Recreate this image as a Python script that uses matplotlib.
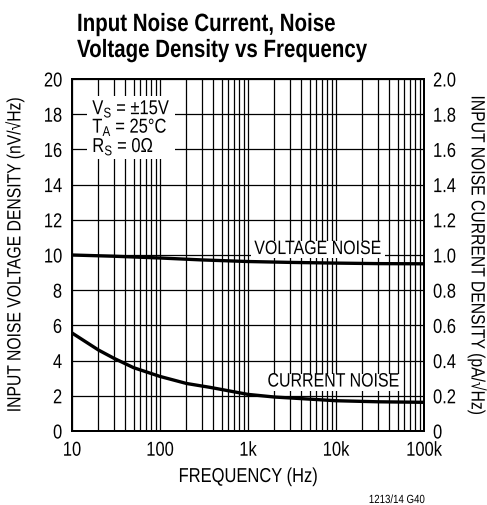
import matplotlib
matplotlib.use("Agg")
import matplotlib.pyplot as plt
from matplotlib.patheffects import AbstractPathEffect
from matplotlib.patches import Rectangle
from matplotlib.transforms import Affine2D, Bbox

plt.rcParams['font.family'] = ['Liberation Sans', 'DejaVu Sans']
plt.rcParams['mathtext.fontset'] = 'custom'
plt.rcParams['mathtext.rm'] = 'Liberation Sans'

# noise curves
freq_v = [10, 30, 100, 300, 1000, 3000, 10000, 30000, 100000]
volt_noise = [10.0, 9.93, 9.83, 9.72, 9.63, 9.58, 9.54, 9.51, 9.50]   # nV/rtHz

freq_i = [10, 20, 30, 50, 100, 200, 370, 1000, 2000, 4700, 10000, 30000, 100000]
curr_noise = [0.557, 0.46, 0.413, 0.36, 0.31, 0.27, 0.248, 0.208, 0.193, 0.182, 0.172, 0.166, 0.163]  # pA/rtHz

x_ticks = [10, 100, 1000, 10000, 100000]
x_ticklabels = ['10', '100', '1k', '10k', '100k']
left_ticks = [0, 2, 4, 6, 8, 10, 12, 14, 16, 18, 20]
right_ticks = [0, 0.2, 0.4, 0.6, 0.8, 1.0, 1.2, 1.4, 1.6, 1.8, 2.0]
right_ticklabels = ['0', '0.2', '0.4', '0.6', '0.8', '1.0', '1.2', '1.4', '1.6', '1.8', '2.0']

SX = 0.82  # horizontal squeeze to get a narrow (condensed) face


class Narrow(AbstractPathEffect):
    """Squeeze glyph outlines horizontally about a fraction of their width."""

    def __init__(self, anchor=0.5, sx=SX):
        super().__init__()
        self.anchor = anchor
        self.sx = sx

    def draw_path(self, renderer, gc, tpath, affine, rgbFace=None):
        xs = tpath.vertices[:, 0]
        if len(xs):
            cx = xs.min() + self.anchor * (xs.max() - xs.min())
        else:
            cx = 0
        squeeze = Affine2D().translate(-cx, 0).scale(self.sx, 1).translate(cx, 0)
        renderer.draw_path(gc, tpath, squeeze + affine, rgbFace)


def narrow(t, anchor):
    t.set_path_effects([Narrow(anchor)])
    return t


fig = plt.figure(figsize=(4.87, 5.06), dpi=100)
ax = fig.add_axes([72 / 487, 74 / 506, 352 / 487, 352 / 506])

ax.set_xscale('log')
ax.set_xlim(10, 100000)
ax.set_ylim(0, 20)

# grid: every decade subdivision, every 2 nV
for dec in [10, 100, 1000, 10000]:
    for m in range(1, 10):
        ax.axvline(dec * m, color='black', lw=0.9, zorder=1)
for y in left_ticks:
    ax.axhline(y, color='black', lw=0.9, zorder=1)

ax.plot(freq_v, volt_noise, color='black', lw=2.4, zorder=3, solid_capstyle='butt')

ax2 = ax.twinx()
ax2.set_ylim(0, 2.0)
ax2.plot(freq_i, curr_noise, color='black', lw=2.4, zorder=3, solid_capstyle='butt')

ax.set_xticks(x_ticks)
ax.set_xticklabels(x_ticklabels)
ax.xaxis.set_minor_locator(matplotlib.ticker.NullLocator())
ax.set_yticks(left_ticks)
ax2.set_yticks(right_ticks)
ax2.set_yticklabels(right_ticklabels)

for a in (ax, ax2):
    a.tick_params(length=0, labelsize=14.5)
    for s in a.spines.values():
        s.set_linewidth(1.4)
ax.tick_params(axis='x', pad=7)
ax.tick_params(axis='y', pad=7)
ax2.tick_params(axis='y', pad=6.5)

for lbl in ax.get_xticklabels():
    narrow(lbl, 0.5)
for lbl in ax.get_yticklabels():
    narrow(lbl, 1.0)
for lbl in ax2.get_yticklabels():
    narrow(lbl, 0.0)

# axis titles
fig_px = lambda x, y: (x / 487, 1 - y / 506)
narrow(fig.text(*fig_px(248, 483), 'FREQUENCY (Hz)', fontsize=14.5,
                ha='center', va='baseline'), 0.5)
narrow(fig.text(*fig_px(15, 256), 'INPUT NOISE VOLTAGE DENSITY (nV/\u221aHz)',
                fontsize=13.8, rotation=90, ha='center', va='center'), 0.5)
narrow(fig.text(*fig_px(477, 256), 'INPUT NOISE CURRENT DENSITY (pA/\u221aHz)',
                fontsize=13.8, rotation=-90, ha='center', va='center'), 0.5)

renderer = fig.canvas.get_renderer()


def squeezed_extent(t, anchor):
    bb = t.get_window_extent(renderer)
    w = bb.width * SX
    x0 = bb.x0 + anchor * (bb.width - w)
    return Bbox.from_bounds(x0, bb.y0, w, bb.height)


def white_box(bboxes, padx=3, pady=2):
    # white patch behind labels, sitting above the grid but under the text
    bb = Bbox.union(bboxes)
    inv = fig.transFigure.inverted()
    (x0, y0), (x1, y1) = inv.transform([(bb.x0 - padx, bb.y0 - pady),
                                        (bb.x1 + padx, bb.y1 + pady)])
    ax.add_patch(Rectangle((x0, y0), x1 - x0, y1 - y0, transform=fig.transFigure,
                           facecolor='white', edgecolor='none', zorder=4))


# operating conditions
cond = [
    ('V$_\\mathregular{S}$ = \u00b115V', 18.0),
    ('T$_\\mathregular{A}$ = 25\u00b0C', 16.95),
    ('R$_\\mathregular{S}$ = 0\u03a9', 15.85),
]
cond_boxes = []
for s, yb in cond:
    t = narrow(ax.text(17.0, yb, s, fontsize=14.5, ha='left', va='baseline', zorder=5), 0.0)
    cond_boxes.append(squeezed_extent(t, 0.0))
white_box(cond_boxes, padx=5, pady=2)

# curve names
tv = narrow(ax.text(6240, 10.31, 'VOLTAGE NOISE', fontsize=14, ha='center',
                    va='center', zorder=5), 0.5)
white_box([squeezed_extent(tv, 0.5)], padx=3, pady=0)
ti = narrow(ax.text(9380, 2.78, 'CURRENT NOISE', fontsize=14, ha='center',
                    va='center', zorder=5), 0.5)
white_box([squeezed_extent(ti, 0.5)], padx=3, pady=0)

narrow(fig.text(*fig_px(77, 32), 'Input Noise Current, Noise', fontsize=18,
                fontweight='bold', ha='left', va='baseline'), 0.0)
narrow(fig.text(*fig_px(77, 58), 'Voltage Density vs Frequency', fontsize=18,
                fontweight='bold', ha='left', va='baseline'), 0.0)
narrow(fig.text(*fig_px(397, 504), '1213/14 G40', fontsize=8.5,
                ha='center', va='baseline'), 0.5)

fig.savefig('out.png', dpi=100)
